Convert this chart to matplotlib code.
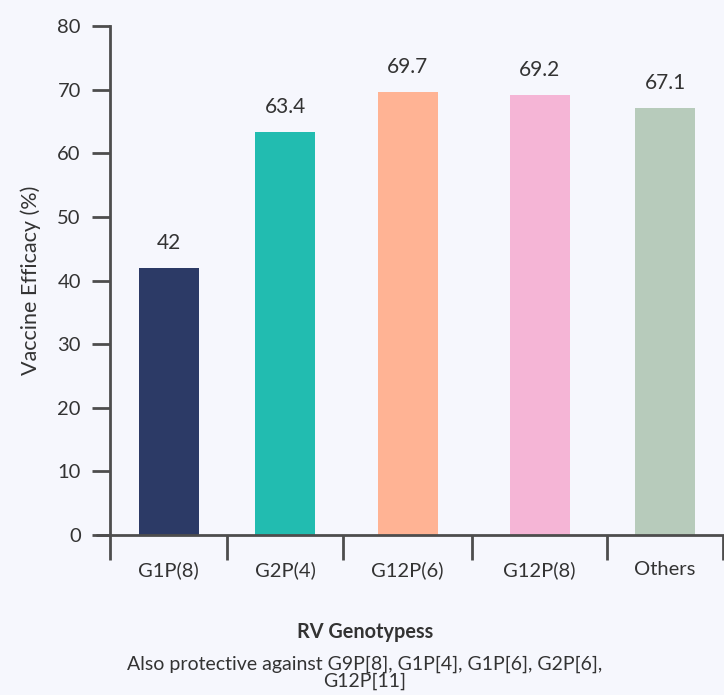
import matplotlib.pyplot as plt
import numpy as np

plt.rcParams['font.family'] = ['Lato', 'DejaVu Sans']

genotypes = ["G1P(8)", "G2P(4)", "G12P(6)", "G12P(8)", "Others"]
efficacy = [42, 63.4, 69.7, 69.2, 67.1]
bar_colors = ["#2c3a66", "#22bcb0", "#ffb394", "#f5b5d6", "#b7cbbb"]
y_ticks = [0, 10, 20, 30, 40, 50, 60, 70, 80]

# category slots are not all the same width
edges = np.array([0, 117, 233, 362, 497, 613])
centers = (edges[:-1] + edges[1:]) / 2

bg = "#f6f7fd"
ink = "#333333"
axis_col = "#4d4d4d"

fig = plt.figure(figsize=(7.24, 6.95), dpi=100, facecolor=bg)
ax = fig.add_axes([110 / 724, 1 - 535 / 695, 614 / 724, 509 / 695])
ax.set_facecolor(bg)

ax.bar(centers, efficacy, width=60, color=bar_colors, zorder=2)
for x, v in zip(centers, efficacy):
    ax.text(x, v + 2.3, f"{v:g}", ha="center", va="bottom", fontsize=15, color=ink)

ax.set_xlim(0, 614)
ax.set_ylim(0, 80)
ax.set_yticks(y_ticks)
ax.set_xticks(edges)
ax.set_xticklabels([])
ax.set_xticks(centers, minor=True)
ax.set_xticklabels(genotypes, minor=True, fontsize=14.5, color=ink)
ax.tick_params(axis="x", which="minor", length=0, pad=19)
ax.tick_params(axis="x", which="major", length=18, width=2, color=axis_col)
ax.tick_params(axis="y", length=13, width=2, color=axis_col, labelsize=14.5, labelcolor=ink, pad=8)

for s in ["top", "right"]:
    ax.spines[s].set_visible(False)
for s in ["left", "bottom"]:
    ax.spines[s].set_color(axis_col)
    ax.spines[s].set_linewidth(2)

# baseline runs a little past the y axis on the left
ax.plot([-14, 0], [0, 0], color=axis_col, lw=2, clip_on=False, solid_capstyle="butt")

ax.set_ylabel("Vaccine Efficacy (%)", fontsize=15.5, color=ink, labelpad=12)

fig.text(365 / 724, 1 - 632 / 695, "RV Genotypess", ha="center", va="center",
         fontsize=14.3, fontweight="bold", color=ink)
fig.text(365 / 724, 1 - 673 / 695,
         "Also protective against G9P[8], G1P[4], G1P[6], G2P[6],\nG12P[11]",
         ha="center", va="center", fontsize=14, color=ink, linespacing=1.0)

fig.savefig("out.png", dpi=100, facecolor=bg)
